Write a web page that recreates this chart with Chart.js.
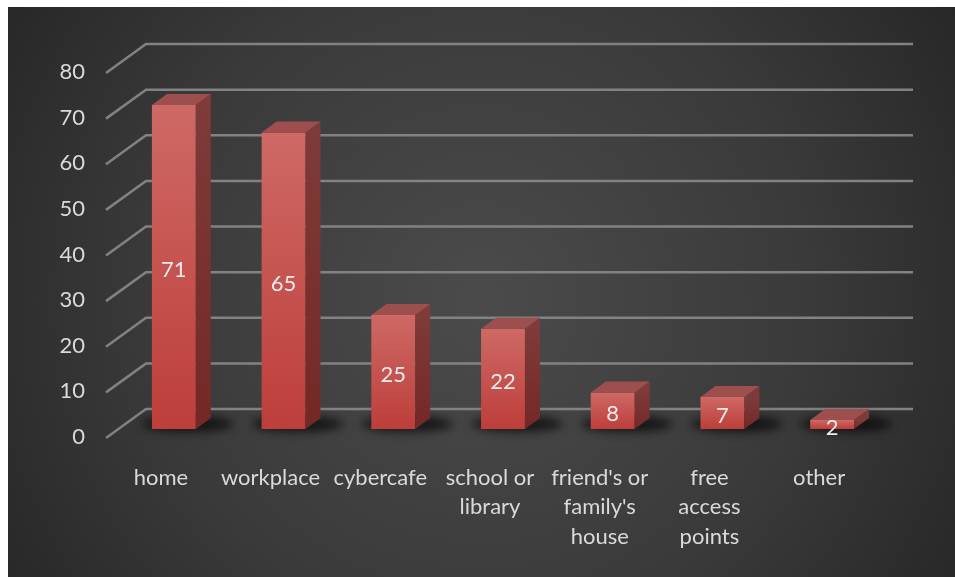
<!DOCTYPE html>
<html>
<head>
<meta charset="utf-8">
<title>Internet access location</title>
<script src="https://cdn.jsdelivr.net/npm/chart.js@4"></script>
<style>
    html, body { margin: 0; padding: 0; background: #ffffff; }
    canvas { display: block; }
</style>
</head>
<body>
<canvas id="accessChart" width="955" height="577"></canvas>
<script>
// Where respondents access the internet
const categories = ['home', 'workplace', 'cybercafe', ['school or', 'library'],
    ["friend's or", "family's", 'house'], ['free', 'access', 'points'], 'other'];
const counts = [71, 65, 25, 22, 8, 7, 2];
const yTicks = [0, 10, 20, 30, 40, 50, 60, 70, 80];

const FONT = 'Lato, "Open Sans", sans-serif';

// Dark backdrop with a soft highlight in the middle
const backdrop = {
    id: 'backdrop',
    beforeDraw(chart) {
        const ctx = chart.ctx;
        ctx.save();
        ctx.fillStyle = '#ffffff';
        ctx.fillRect(0, 0, chart.width, chart.height);
        const g = ctx.createRadialGradient(480, 300, 0, 480, 300, 600);
        g.addColorStop(0, '#4b4b4b');
        g.addColorStop(0.55, '#3a3a3a');
        g.addColorStop(1, '#242424');
        ctx.fillStyle = g;
        ctx.fillRect(8, 7, chart.width - 8, chart.height - 7);
        ctx.restore();
    }
};

// Back wall gridlines, slanted side lines and floor shadows
const wall = {
    id: 'wall',
    beforeDatasetsDraw(chart) {
        const ctx = chart.ctx;
        const area = chart.chartArea;
        const y = chart.scales.y;
        ctx.save();
        ctx.strokeStyle = '#828282';
        ctx.lineWidth = 2.5;
        yTicks.forEach(v => {
            const py = y.getPixelForValue(v);
            ctx.beginPath();
            ctx.moveTo(area.left - 13, py + 9);
            ctx.lineTo(area.left + 27, py - 20);
            ctx.lineTo(area.right + 26, py - 20);
            ctx.stroke();
        });

        // soft shadows under each bar
        const meta = chart.getDatasetMeta(0);
        ctx.filter = 'blur(5px)';
        ctx.fillStyle = 'rgba(0, 0, 0, 0.65)';
        meta.data.forEach(bar => {
            ctx.beginPath();
            ctx.ellipse(bar.x + 14, bar.base - 5, bar.width / 2 + 24, 8, 0, 0, Math.PI * 2);
            ctx.fill();
        });
        ctx.restore();
    }
};

// Side and top faces of the bars, plus the value labels
const depth = {
    id: 'depth',
    afterDatasetsDraw(chart) {
        const ctx = chart.ctx;
        const meta = chart.getDatasetMeta(0);
        const dx = 15, dy = -11;
        ctx.save();
        meta.data.forEach((bar, i) => {
            const l = bar.x - bar.width / 2;
            const r = bar.x + bar.width / 2;
            const t = bar.y;
            const b = bar.base;

            const side = ctx.createLinearGradient(0, t, 0, b);
            side.addColorStop(0, '#7e3b39');
            side.addColorStop(1, '#742826');
            ctx.fillStyle = side;
            ctx.beginPath();
            ctx.moveTo(r, t);
            ctx.lineTo(r + dx, t + dy);
            ctx.lineTo(r + dx, b + dy);
            ctx.lineTo(r, b);
            ctx.closePath();
            ctx.fill();

            ctx.fillStyle = '#9c4f4c';
            ctx.beginPath();
            ctx.moveTo(l, t);
            ctx.lineTo(l + dx, t + dy);
            ctx.lineTo(r + dx, t + dy);
            ctx.lineTo(r, t);
            ctx.closePath();
            ctx.fill();

            ctx.fillStyle = '#ececec';
            ctx.font = '22px ' + FONT;
            ctx.textAlign = 'center';
            ctx.textBaseline = 'middle';
            ctx.fillText(String(counts[i]), bar.x, (t + b) / 2 + 3);
        });
        ctx.restore();
    }
};

new Chart(document.getElementById('accessChart'), {
    type: 'bar',
    data: {
        labels: categories,
        datasets: [{
            data: counts,
            borderWidth: 0,
            backgroundColor: function(context) {
                const chart = context.chart;
                if (!chart.chartArea || context.type !== 'data') {
                    return '#c75652';
                }
                const y = chart.scales.y;
                const top = y.getPixelForValue(context.raw);
                const base = y.getPixelForValue(0);
                const g = chart.ctx.createLinearGradient(0, top, 0, base);
                g.addColorStop(0, '#ce6965');
                g.addColorStop(1, '#bd3e3a');
                return g;
            },
            categoryPercentage: 1,
            barPercentage: 0.4
        }]
    },
    options: {
        responsive: false,
        animation: false,
        layout: {
            padding: { left: 0, right: 68, top: 64, bottom: 0 }
        },
        plugins: {
            legend: { display: false },
            tooltip: { enabled: false }
        },
        scales: {
            x: {
                grid: { display: false, drawTicks: false },
                border: { display: false },
                ticks: {
                    color: '#dadada',
                    font: { family: FONT, size: 22, lineHeight: 1.34 },
                    padding: 34,
                    labelOffset: -13,
                    maxRotation: 0,
                    autoSkip: false
                },
                afterFit(scale) { scale.height = 148; }
            },
            y: {
                min: 0,
                max: 80,
                grid: { display: false, drawTicks: false },
                border: { display: false },
                ticks: {
                    stepSize: 10,
                    color: '#dadada',
                    font: { family: FONT, size: 22 },
                    padding: 34,
                    labelOffset: 8
                },
                afterFit(scale) { scale.width = 119; }
            }
        }
    },
    plugins: [backdrop, wall, depth]
});
</script>
</body>
</html>
